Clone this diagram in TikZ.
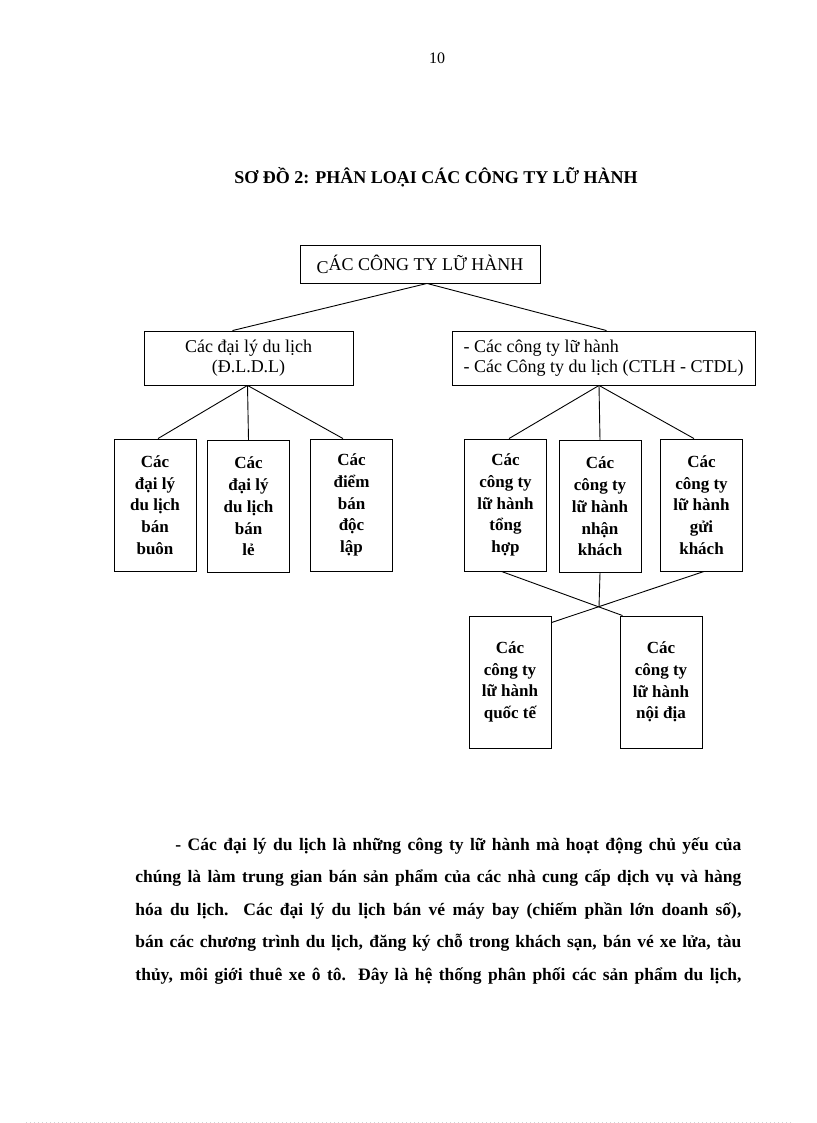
\documentclass[tikz,border=0pt]{standalone}
\usepackage{fontspec}
\setmainfont{Liberation Serif}
\begin{document}
\begin{tikzpicture}
        [
            x=1pt, y=-1pt,
            line width=0.9pt,
            group/.style={draw, align=center, inner sep=0pt, minimum height=54pt, font=\fontsize{18}{20.5}\selectfont},
            kind/.style={draw, align=center, inner sep=0pt, minimum width=82pt, minimum height=132pt, font=\fontsize{17}{21.7}\selectfont\bfseries}
        ]
        \useasboundingbox (0,0) rectangle (816,1123);
        \node (page) at (437,58) {\fontsize{16}{18}\selectfont 10};
        \node (title) at (436,177) {\fontsize{18}{20}\selectfont\bfseries SƠ ĐỒ 2: PHÂN LOẠI CÁC CÔNG TY LỮ HÀNH};

        \node[group, minimum width=240pt, minimum height=38pt] (top) at (420,264) {\raisebox{-3pt}{C}ÁC CÔNG TY LỮ HÀNH};
        \node[group, minimum width=209pt] (dl) at (248.5,358) {Các đại lý du lịch\\(Đ.L.D.L)};
        \node[group, minimum width=303pt, align=left] (ct) at (603.5,358) {- Các công ty lữ hành\\- Các Công ty du lịch (CTLH - CTDL)};

        \node[kind] (b1) at (155,505) {Các\\đại lý\\du lịch\\bán\\buôn};
        \node[kind] (b2) at (248.5,506.5) {Các\\đại lý\\du lịch\\bán\\lẻ};
        \node[kind] (b3) at (351.5,505) {Các\\điểm\\bán\\độc\\lập};
        \node[kind] (b4) at (505.5,505) {Các\\công ty\\lữ hành\\tổng\\hợp};
        \node[kind] (b5) at (600,506.5) {Các\\công ty\\lữ hành\\nhận\\khách};
        \node[kind] (b6) at (701.5,505) {Các\\công ty\\lữ hành\\gửi\\khách};
        \node[kind] (b7) at (510,682) {Các\\công ty\\lữ hành\\quốc tế};
        \node[kind] (b8) at (661,682) {Các\\công ty\\lữ hành\\nội địa};
        \coordinate (meet) at (599,607);

        \path
        ([xshift=7pt]top.south) edge ([xshift=-16pt]dl.north)
        ([xshift=7pt]top.south) edge ([xshift=3pt]ct.north)
        ([xshift=-1pt]dl.south) edge ([xshift=3pt]b1.north)
        ([xshift=-1pt]dl.south) edge (b2.north)
        ([xshift=-1pt]dl.south) edge ([xshift=-8.5pt]b3.north)
        ([xshift=-4.5pt]ct.south) edge ([xshift=3.5pt]b4.north)
        ([xshift=-4.5pt]ct.south) edge (b5.north)
        ([xshift=-4.5pt]ct.south) edge ([xshift=-7.5pt]b6.north)
        ([xshift=-4pt]b4.south) edge ([xshift=3pt]b8.north west)
        ([xshift=2.5pt]b6.south) edge ([yshift=-7pt]b7.north east)
        (b5.south) edge (meet);

        \node[anchor=base west, inner sep=0pt, text width=606pt, align=justify, font=\fontsize{17.5}{32.5}\selectfont\bfseries] (para) at (135,850)
        {\hspace*{40pt}- Các đại lý du lịch là những công ty lữ hành mà hoạt động chủ yếu của\linebreak
        chúng là làm trung gian bán sản phẩm của các nhà cung cấp dịch vụ và hàng\linebreak
        hóa du lịch. Các đại lý du lịch bán vé máy bay (chiếm phần lớn doanh số),\linebreak
        bán các chương trình du lịch, đăng ký chỗ trong khách sạn, bán vé xe lửa, tàu\linebreak
        thủy, môi giới thuê xe ô tô. Đây là hệ thống phân phối các sản phẩm du lịch,\parfillskip=0pt\par};

        \draw[gray!35, line width=0.6pt, dash pattern=on 1pt off 3pt] (26,1122) -- (791,1122);
    \end{tikzpicture}
\end{document}
